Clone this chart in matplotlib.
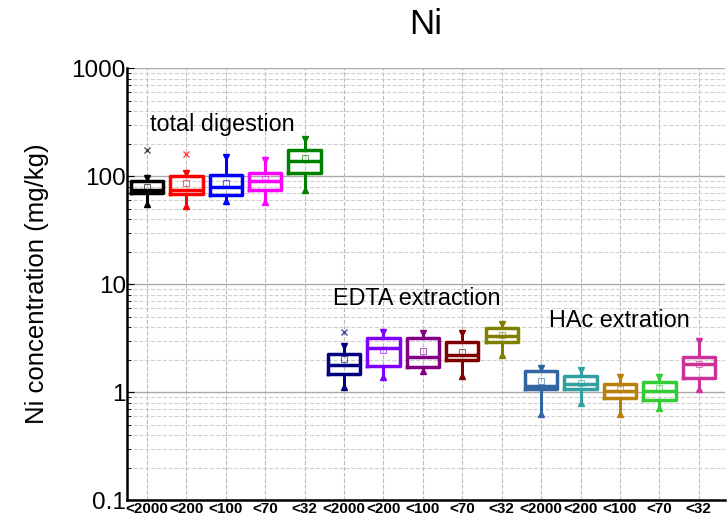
import matplotlib
matplotlib.use('Agg')
import matplotlib.pyplot as plt
from matplotlib.ticker import LogLocator, NullFormatter

plt.rcParams['font.family'] = ['Liberation Sans', 'DejaVu Sans']

# size fractions, three groups of five
labels = ['<2000', '<200', '<100', '<70', '<32'] * 3

# box statistics (mg/kg)
whislo = [55, 53, 59, 58, 74,
          1.12, 1.39, 1.56, 1.41, 2.2,
          0.625, 0.80, 0.625, 0.71, 1.06]
q1 = [69.6, 67.7, 66.7, 75, 108,
      1.49, 1.74, 1.71, 1.98, 2.92,
      1.08, 1.06, 0.885, 0.84, 1.36]
med = [75, 75, 79.6, 90, 138,
       1.80, 2.54, 2.10, 2.20, 3.30,
       1.14, 1.20, 1.03, 1.03, 1.84]
q3 = [90.4, 100, 102, 106, 174,
      2.28, 3.18, 3.18, 2.92, 3.89,
      1.57, 1.41, 1.19, 1.25, 2.12]
whishi = [95.9, 107, 149, 141, 219,
          2.67, 3.62, 3.5, 3.5, 4.26,
          1.66, 1.6, 1.39, 1.37, 2.98]
means = [79, 87, 87, 95, 146,
         2.01, 2.48, 2.41, 2.36, 3.37,
         1.26, 1.22, 1.06, 1.10, 1.82]
fliers = [[174], [160], [], [], [],
          [3.6], [], [], [], [],
          [], [], [], [], []]

colors = ['#000000', '#ff0000', '#0000ff', '#ff00ff', '#008000',
          '#000080', '#8000ff', '#800080', '#800000', '#808000',
          '#3366a0', '#33a0a0', '#b8800b', '#33cc33', '#cc3399']

group_names = ['total digestion', 'EDTA extraction', 'HAc extration']
group_x = [1.08, 5.72, 11.2]
group_y = [300, 7.4, 4.6]

fig = plt.figure(figsize=(7.27, 5.2), dpi=100)
ax = fig.add_axes([0.175, 0.038, 0.822, 0.831])

pos = list(range(1, len(labels) + 1))
for i in range(len(labels)):
    st = [{'whislo': whislo[i], 'q1': q1[i], 'med': med[i], 'q3': q3[i],
           'whishi': whishi[i], 'mean': means[i], 'fliers': fliers[i]}]
    c = colors[i]
    ax.bxp(st, positions=[pos[i]], widths=0.82, showmeans=True,
           showcaps=False,
           boxprops=dict(color=c, linewidth=2.5),
           medianprops=dict(color=c, linewidth=2.5),
           whiskerprops=dict(color=c, linewidth=2.2),
           meanprops=dict(marker='s', markerfacecolor='none',
                          markeredgecolor=c, markersize=5, alpha=0.6,
                          markeredgewidth=0.8),
           flierprops=dict(marker='x', markeredgecolor=c, markersize=5,
                           alpha=0.7))
    # small end markers on the whiskers
    ax.plot(pos[i], whishi[i], marker='v', color=c, markersize=4.5, zorder=4)
    ax.plot(pos[i], whislo[i], marker='^', color=c, markersize=4.5, zorder=4)

ax.set_yscale('log')
ax.set_ylim(0.1, 1000)
ax.set_xlim(0.5, 15.66)
ax.set_yticks([0.1, 1, 10, 100, 1000])
ax.set_yticklabels(['0.1', '1', '10', '100', '1000'], fontsize=17.5)
ax.yaxis.set_minor_locator(LogLocator(base=10, subs=range(2, 10)))
ax.yaxis.set_minor_formatter(NullFormatter())
ax.set_xticks(pos)
ax.set_xticklabels(labels, fontsize=11, fontweight='bold')
ax.tick_params(axis='x', length=0, pad=1)
ax.tick_params(axis='y', which='both', direction='in', pad=1)
ax.tick_params(axis='y', which='major', length=5)
ax.tick_params(axis='y', which='minor', length=3)

ax.grid(True, axis='y', which='major', color='#aaaaaa', linewidth=1)
ax.grid(True, axis='y', which='minor', color='#d0d0d0', linestyle='--', linewidth=0.8)
ax.grid(True, axis='x', which='major', color='#bbbbbb', linestyle='--', linewidth=0.8)
ax.set_axisbelow(True)

ax.spines['top'].set_visible(False)
ax.spines['right'].set_visible(False)
ax.spines['left'].set_linewidth(1.8)
ax.spines['bottom'].set_linewidth(1.8)

for name, gx, gy in zip(group_names, group_x, group_y):
    ax.text(gx, gy, name, fontsize=16.8, ha='left', va='center')

ax.set_ylabel('Ni concentration (mg/kg)', fontsize=18.5, labelpad=16)
fig.text(0.585, 0.953, 'Ni', fontsize=25, ha='center', va='center')

plt.savefig('out.png', dpi=100)
